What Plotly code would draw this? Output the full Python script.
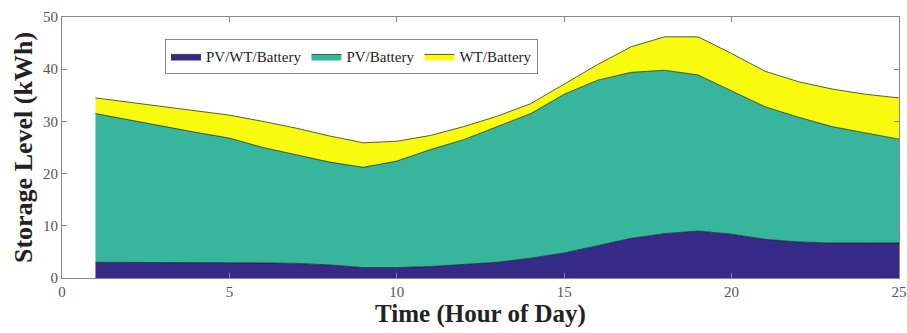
import plotly.graph_objects as go

hours = list(range(1, 26))
pv_wt_battery = [3.0, 3.0, 3.0, 3.0, 3.0, 2.9, 2.8, 2.5, 2.0, 2.0, 2.2, 2.6, 3.0,
                 3.8, 4.8, 6.2, 7.6, 8.5, 9.0, 8.4, 7.4, 6.9, 6.7, 6.7, 6.7]
pv_battery = [28.5, 27.3, 26.0, 24.9, 23.8, 22.1, 20.8, 19.7, 19.2, 20.4, 22.4, 23.9, 26.0,
              27.7, 30.4, 31.7, 31.8, 31.3, 29.9, 27.4, 25.4, 23.9, 22.3, 21.1, 19.9]
wt_battery = [3.0, 3.4, 3.8, 4.1, 4.4, 5.0, 5.1, 5.0, 4.7, 3.8, 2.7, 2.5, 2.0,
              1.9, 2.0, 3.0, 4.9, 6.4, 7.3, 7.2, 6.8, 6.8, 7.2, 7.4, 7.9]

series = [
    ("PV/WT/Battery", pv_wt_battery, "#352a87"),
    ("PV/Battery", pv_battery, "#38b69d"),
    ("WT/Battery", wt_battery, "#f9fb0e"),
]

fig = go.Figure()
for name, vals, col in series:
    fig.add_trace(go.Scatter(
        x=hours, y=vals, name=name, mode="lines", stackgroup="one",
        fillcolor=col, line=dict(color="rgba(20,30,20,0.9)", width=0.8),
        hoverinfo="x+y",
    ))

font = "Liberation Serif, Times New Roman, serif"
axis_common = dict(
    showline=True, linecolor="#888888", linewidth=1, mirror="ticks",
    ticks="inside", ticklen=5, tickcolor="#888888",
    showgrid=False, zeroline=False, automargin=False,
    tickfont=dict(family=font, size=15, color="#555555"),
)
fig.update_xaxes(range=[0, 25], tickvals=[0, 5, 10, 15, 20, 25],
                 title=dict(text="<b>Time (Hour of Day)</b>",
                            font=dict(family=font, size=25, color="#222222"),
                            standoff=2),
                 **axis_common)
fig.update_yaxes(range=[0, 50], tickvals=[0, 10, 20, 30, 40, 50],
                 title=dict(text="<b>Storage Level (kWh)</b>",
                            font=dict(family=font, size=26, color="#222222"),
                            standoff=2),
                 **axis_common)

fig.update_layout(
    width=907, height=333,
    margin=dict(l=62, r=8, t=17, b=55),
    plot_bgcolor="white", paper_bgcolor="white",
    showlegend=True,
    legend=dict(orientation="h", x=0.123, y=0.915, xanchor="left", yanchor="top",
                bgcolor="white", bordercolor="#888888", borderwidth=1,
                font=dict(family=font, size=15, color="#222222"),
                traceorder="normal", itemwidth=30, tracegroupgap=0),
)

fig.write_html("out.html")
